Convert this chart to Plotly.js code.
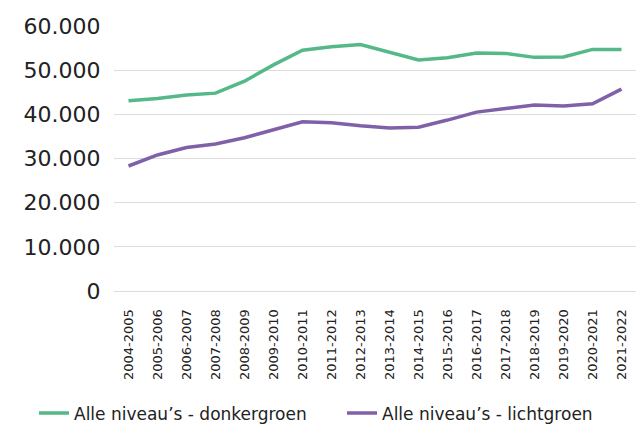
<!DOCTYPE html>
<html>
<head>
<meta charset="utf-8">
<script src="https://cdn.plot.ly/plotly-3.0.1.min.js"></script>
<style>html,body{margin:0;padding:0;background:#fff;}#chart{width:636px;height:424px;}</style>
</head>
<body>
<div id="chart"></div>
<script>
const schooljaren = ["2004-2005","2005-2006","2006-2007","2007-2008","2008-2009","2009-2010","2010-2011","2011-2012","2012-2013","2013-2014","2014-2015","2015-2016","2016-2017","2017-2018","2018-2019","2019-2020","2020-2021","2021-2022"];
const donkergroen = [43100,43600,44400,44800,47500,51200,54500,55300,55800,54100,52300,52800,53900,53800,52900,53000,54700,54700];
const lichtgroen = [28300,30800,32500,33300,34700,36500,38300,38100,37400,36900,37100,38700,40500,41300,42100,41900,42400,45700];
const seriesNames = ["Alle niveau’s - donkergroen","Alle niveau’s - lichtgroen"];
const yTickVals = [0,10000,20000,30000,40000,50000,60000];
const yTickText = ["0","10.000","20.000","30.000","40.000","50.000","60.000"];

const font = "DejaVu Sans, sans-serif";
const traces = [
  {x: schooljaren, y: donkergroen, name: seriesNames[0], type: "scatter", mode: "lines",
   line: {color: "#55b888", width: 3.5}, legend: "legend"},
  {x: schooljaren, y: lichtgroen, name: seriesNames[1], type: "scatter", mode: "lines",
   line: {color: "#8060a8", width: 3.5}, legend: "legend2"}
];
const legendBase = {orientation: "h", xref: "container", yref: "container", xanchor: "left",
  y: 0.025, yanchor: "middle", font: {size: 17, color: "#222"}, bgcolor: "rgba(0,0,0,0)"};
const layout = {
  width: 636, height: 424,
  margin: {l: 114, r: 0, t: 26, b: 133},
  paper_bgcolor: "#fff", plot_bgcolor: "#fff",
  font: {family: font, color: "#222"},
  showlegend: true,
  legend: Object.assign({}, legendBase, {x: 34/636}),
  legend2: Object.assign({}, legendBase, {x: 342/636}),
  xaxis: {type: "category", range: [-0.5, 17.5], tickangle: -90, tickfont: {size: 13, color: "#222"},
          showgrid: false, showline: false, zeroline: false,
          ticks: "outside", ticklen: 12, tickcolor: "rgba(0,0,0,0)"},
  yaxis: {range: [0, 60000], tickvals: yTickVals, ticktext: yTickText,
          tickfont: {size: 22, color: "#222"}, gridcolor: "#dcdcdc", gridwidth: 1,
          zeroline: true, zerolinecolor: "#dcdcdc", zerolinewidth: 1,
          showline: false, ticks: "outside", ticklen: 8, tickcolor: "rgba(0,0,0,0)"}
};
Plotly.newPlot("chart", traces, layout, {displayModeBar: false, staticPlot: true});
</script>
</body>
</html>
